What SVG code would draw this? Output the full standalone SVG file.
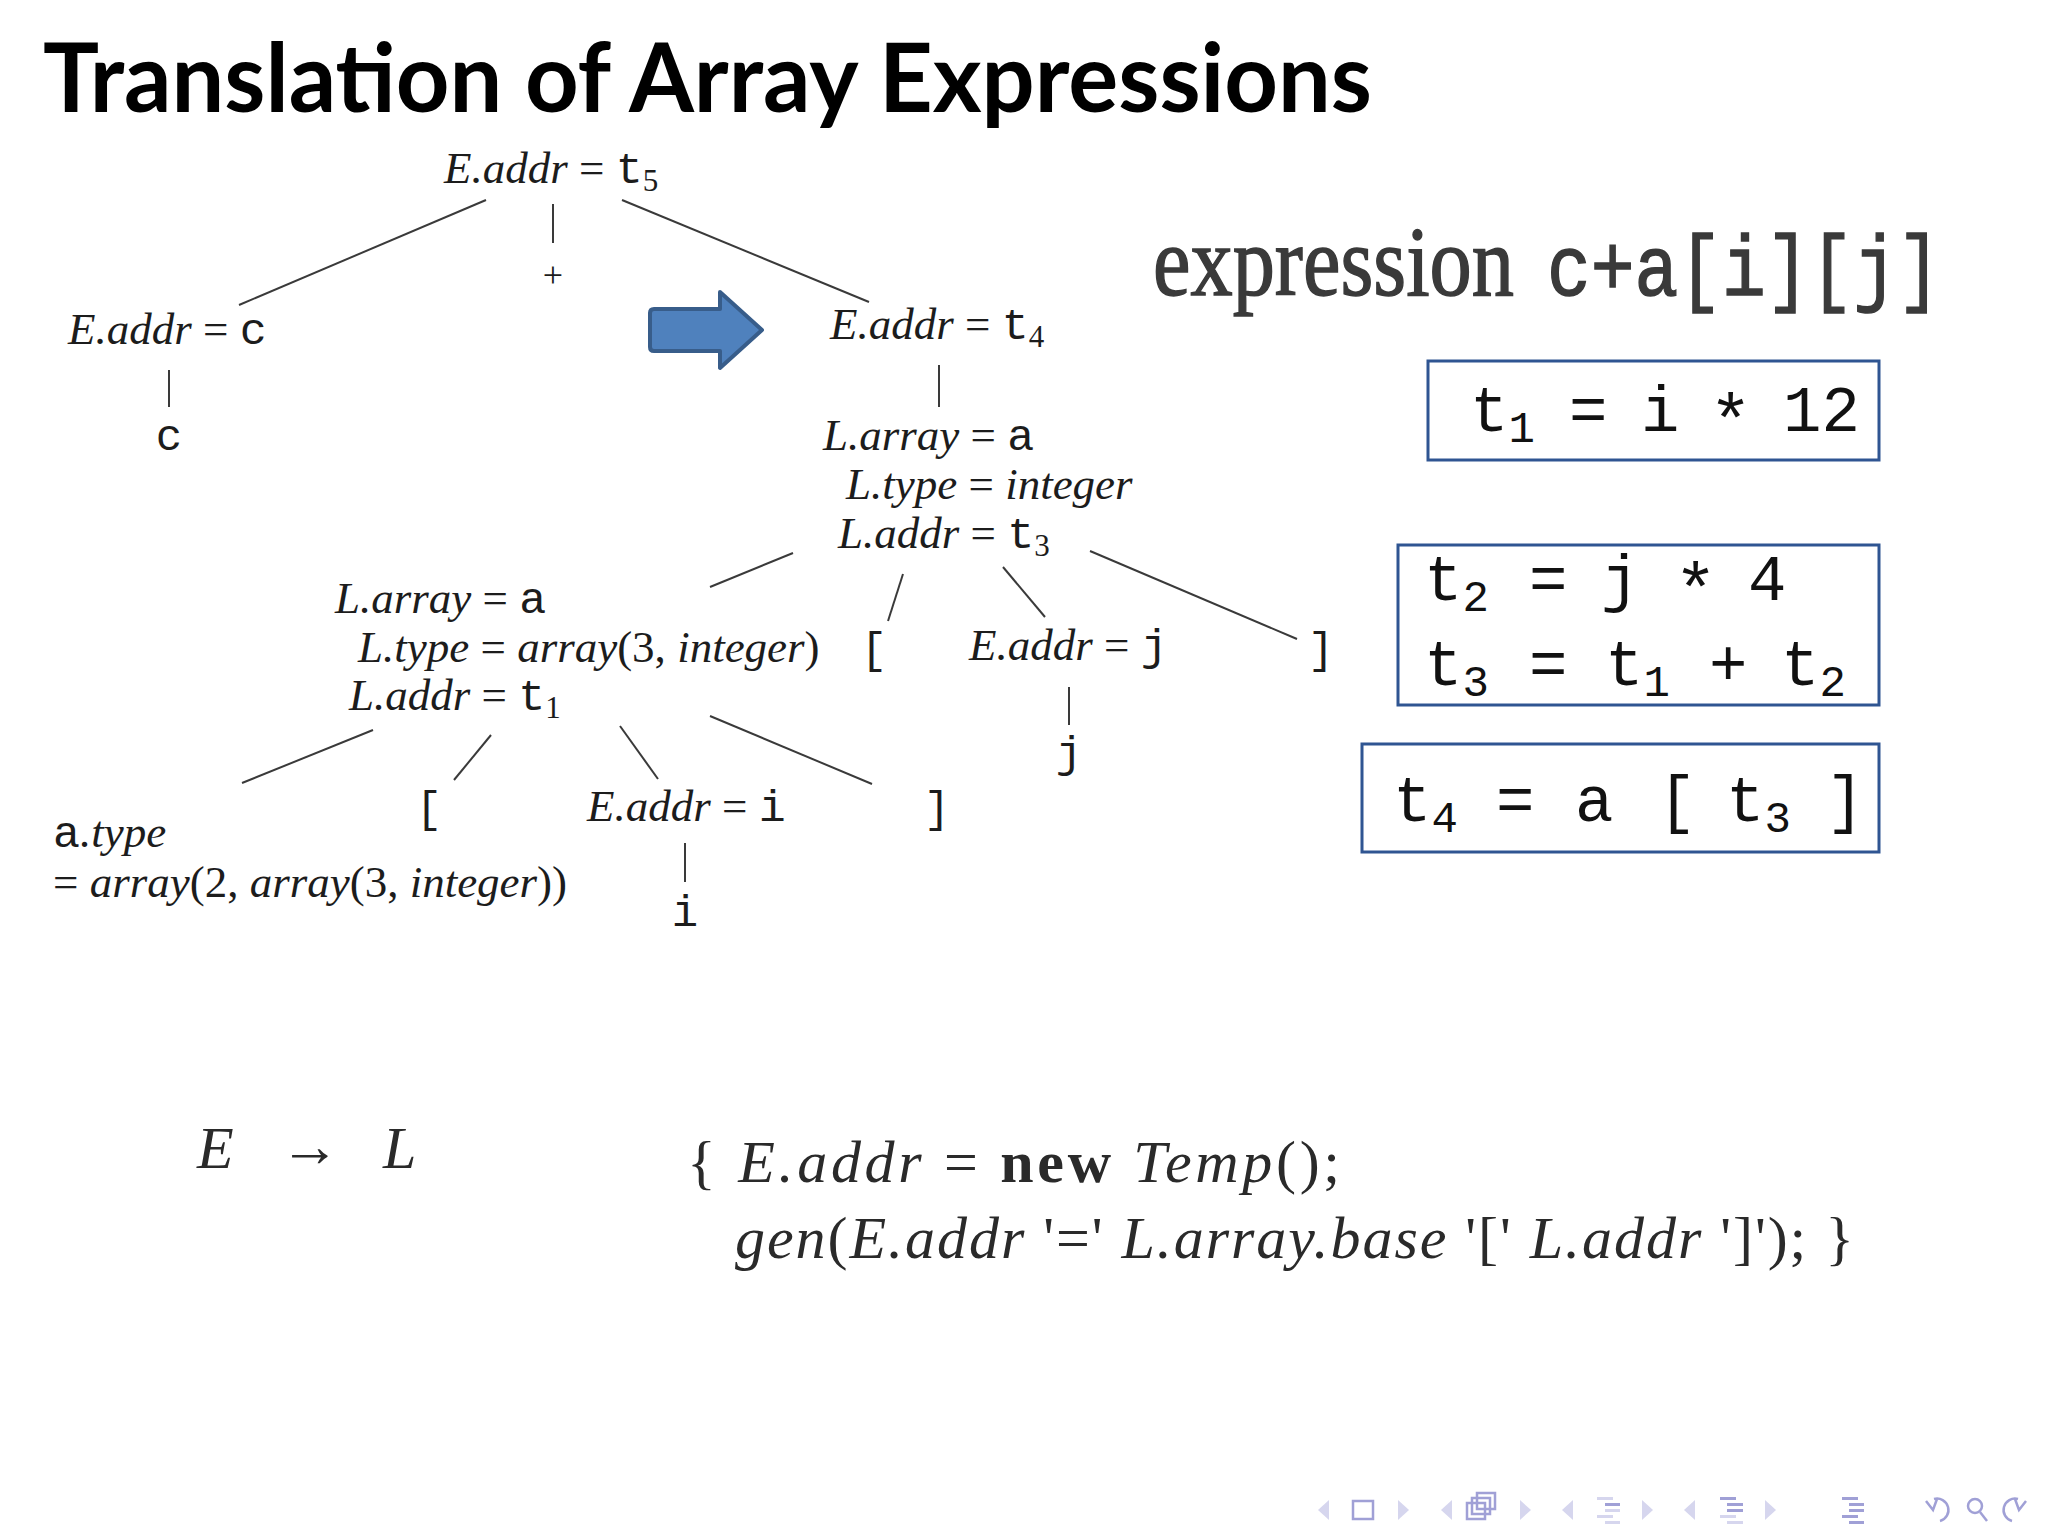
<svg xmlns="http://www.w3.org/2000/svg" width="2048" height="1540" viewBox="0 0 2048 1540">
<style>
.m{font-family:"Liberation Serif","DejaVu Serif",serif;font-style:italic;font-size:45px;fill:#1c1c1c}
.r{font-style:normal}
.b{font-style:normal;font-weight:bold}
.tt{font-family:"Liberation Mono",monospace;font-style:normal}
.s{font-style:normal;font-size:31px}
.lf{font-family:"Liberation Mono",monospace;font-size:44px;fill:#1c1c1c;text-anchor:middle}
.bx{font-family:"Liberation Mono",monospace;font-size:64px;fill:#111}
.bs{font-size:44px}
.ast{font-size:72px}
.box{fill:none;stroke:#2f5592;stroke-width:3}
.con line{stroke:#3a3a3a;stroke-width:2}
.f{font-family:"Liberation Serif","DejaVu Serif",serif;font-style:italic;font-size:60px;fill:#2a2a2a}
.nt{fill:#d6d6ee}
.ni{fill:none;stroke:#a0a0d6;stroke-width:2.5}
.nb{fill:#a0a0d6}
.nl{fill:#d6d6ee}
</style>
<rect width="2048" height="1540" fill="#ffffff"/>
<text id="title" x="43" y="112" font-family="Lato,'Liberation Sans',sans-serif" font-weight="bold" font-size="95" fill="#000" textLength="1329" lengthAdjust="spacingAndGlyphs">Translation of Array Expressions</text>

<g class="con" id="connectors">
<line x1="486" y1="200" x2="239" y2="305"/>
<line x1="553" y1="204" x2="553" y2="243"/>
<line x1="622" y1="200" x2="869" y2="302"/>
<line x1="169" y1="370" x2="169" y2="407"/>
<line x1="939" y1="365" x2="939" y2="407"/>
<line x1="793" y1="553" x2="710" y2="587"/>
<line x1="903" y1="574" x2="888" y2="621"/>
<line x1="1003" y1="567" x2="1045" y2="617"/>
<line x1="1090" y1="551" x2="1297" y2="639"/>
<line x1="1069" y1="687" x2="1069" y2="725"/>
<line x1="373" y1="730" x2="242" y2="783"/>
<line x1="491" y1="735" x2="454" y2="780"/>
<line x1="620" y1="726" x2="658" y2="779"/>
<line x1="710" y1="716" x2="872" y2="784"/>
<line x1="685" y1="843" x2="685" y2="882"/>
</g>

<g id="n-root"><text class="m" x="444" y="183">E.addr<tspan class="r"> = </tspan><tspan class="tt">t</tspan><tspan class="s" dy="8">5</tspan></text></g>
<g id="n-plus"><text x="553" y="287" font-family="Liberation Serif,serif" font-size="36" fill="#1c1c1c" text-anchor="middle">+</text></g>
<g id="n-ec"><text class="m" x="68" y="344">E.addr<tspan class="r"> = </tspan><tspan class="tt">c</tspan></text></g>
<g id="n-c"><text class="lf" x="169" y="450">c</text></g>

<g id="arrow"><path d="M654 309 H720 V292 L762 330 L720 368 V351 H654 Q650 351 650 347 V313 Q650 309 654 309 Z" fill="#4f81bd" stroke="#385d8a" stroke-width="4" stroke-linejoin="round"/></g>

<g id="n-et4"><text class="m" x="830" y="339">E.addr<tspan class="r"> = </tspan><tspan class="tt">t</tspan><tspan class="s" dy="8">4</tspan></text></g>
<g id="n-l1">
<text class="m" x="823" y="450">L.array<tspan class="r"> = </tspan><tspan class="tt">a</tspan></text>
<text class="m" x="846" y="499">L.type<tspan class="r"> = </tspan>integer</text>
<text class="m" x="838" y="548">L.addr<tspan class="r"> = </tspan><tspan class="tt">t</tspan><tspan class="s" dy="8">3</tspan></text>
</g>
<g id="n-l2">
<text class="m" x="335" y="613">L.array<tspan class="r"> = </tspan><tspan class="tt">a</tspan></text>
<text class="m" x="358" y="662">L.type<tspan class="r"> = </tspan>array<tspan class="r">(3, </tspan>integer<tspan class="r">)</tspan></text>
<text class="m" x="349" y="710">L.addr<tspan class="r"> = </tspan><tspan class="tt">t</tspan><tspan class="s" dy="8">1</tspan></text>
</g>
<g id="n-lb1"><text class="lf" x="874" y="663">[</text></g>
<g id="n-ej"><text class="m" x="969" y="660">E.addr<tspan class="r"> = </tspan><tspan class="tt">j</tspan></text></g>
<g id="n-rb1"><text class="lf" x="1321" y="663">]</text></g>
<g id="n-j"><text class="lf" x="1069" y="767">j</text></g>
<g id="n-atype">
<text class="m" x="53" y="847"><tspan class="tt">a</tspan>.type</text>
<text class="m" x="53" y="897"><tspan class="r">= </tspan>array<tspan class="r">(2, </tspan>array<tspan class="r">(3, </tspan>integer<tspan class="r">))</tspan></text>
</g>
<g id="n-lb2"><text class="lf" x="429" y="822">[</text></g>
<g id="n-ei"><text class="m" x="587" y="821">E.addr<tspan class="r"> = </tspan><tspan class="tt">i</tspan></text></g>
<g id="n-rb2"><text class="lf" x="937" y="822">]</text></g>
<g id="n-i"><text class="lf" x="685" y="926">i</text></g>

<g id="expr">
<text x="1153" y="295" font-family="Liberation Serif,serif" font-size="100" fill="#3a3a3a" stroke="#3a3a3a" stroke-width="1.5" textLength="361" lengthAdjust="spacingAndGlyphs">expression</text>
<text x="1547" y="295" font-family="Liberation Mono,monospace" font-size="86" fill="#3a3a3a" stroke="#3a3a3a" stroke-width="1.5" textLength="394" lengthAdjust="spacingAndGlyphs">c+a[i][j]</text>
</g>

<g id="box1">
<rect class="box" x="1428" y="361" width="451" height="99"/>
<text class="bx" y="431"><tspan x="1470">t</tspan><tspan class="bs" dy="11">1</tspan><tspan x="1569" dy="-11">=</tspan><tspan x="1641">i</tspan><tspan class="ast" x="1709" dy="14">*</tspan><tspan x="1783" dy="-14">12</tspan></text>
</g>
<g id="box2">
<rect class="box" x="1398" y="545" width="481" height="160"/>
<text class="bx" y="600"><tspan x="1424">t</tspan><tspan class="bs" dy="11">2</tspan><tspan x="1529" dy="-11">=</tspan><tspan x="1601">j</tspan><tspan class="ast" x="1674" dy="14">*</tspan><tspan x="1748" dy="-14">4</tspan></text>
<text class="bx" y="685"><tspan x="1424">t</tspan><tspan class="bs" dy="11">3</tspan><tspan x="1529" dy="-11">=</tspan><tspan x="1605">t</tspan><tspan class="bs" dy="11">1</tspan><tspan x="1709" dy="-11">+</tspan><tspan x="1781">t</tspan><tspan class="bs" dy="11">2</tspan></text>
</g>
<g id="box3">
<rect class="box" x="1362" y="744" width="517" height="108"/>
<text class="bx" y="821"><tspan x="1393">t</tspan><tspan class="bs" dy="11">4</tspan><tspan x="1496" dy="-11">=</tspan><tspan x="1575">a</tspan><tspan x="1658">[</tspan><tspan x="1726">t</tspan><tspan class="bs" dy="11">3</tspan><tspan x="1826" dy="-11">]</tspan></text>
</g>

<g id="rule">
<text class="f" x="197" y="1168">E</text>
<text class="f r" x="280" y="1166">→</text>
<text class="f" x="383" y="1168">L</text>
<text class="f" x="687" y="1182" textLength="653"><tspan class="r">{ </tspan>E.addr<tspan class="r"> = </tspan><tspan class="b">new</tspan> Temp<tspan class="r">();</tspan></text>
<text class="f" x="735" y="1258" textLength="1119">gen<tspan class="r">(</tspan>E.addr<tspan class="r"> '=' </tspan>L.array.base<tspan class="r"> '[' </tspan>L.addr<tspan class="r"> ']'); }</tspan></text>
</g>

<g id="nav">
<polygon class="nt" points="1329,1500 1318,1510 1329,1520"/>
<rect class="ni" x="1353" y="1501" width="20" height="18"/>
<polygon class="nt" points="1398,1500 1409,1510 1398,1520"/>
<polygon class="nt" points="1452,1500 1441,1510 1452,1520"/>
<rect class="ni" x="1477" y="1493" width="18" height="16"/>
<rect class="ni" x="1472" y="1498" width="18" height="16" fill="#fff"/>
<rect class="ni" x="1467" y="1503" width="18" height="16" fill="#fff"/>
<polygon class="nt" points="1520,1500 1531,1510 1520,1520"/>
<polygon class="nt" points="1573,1500 1562,1510 1573,1520"/>
<rect class="nl" x="1597" y="1497" width="16" height="3"/>
<rect class="nb" x="1605" y="1503" width="15" height="3"/>
<rect class="nl" x="1605" y="1509" width="15" height="3"/>
<rect class="nl" x="1597" y="1515" width="16" height="3"/>
<rect class="nl" x="1605" y="1521" width="15" height="3"/>
<polygon class="nt" points="1642,1500 1653,1510 1642,1520"/>
<polygon class="nt" points="1695,1500 1684,1510 1695,1520"/>
<rect class="nb" x="1720" y="1497" width="16" height="3"/>
<rect class="nb" x="1727" y="1503" width="16" height="3"/>
<rect class="nb" x="1727" y="1509" width="16" height="3"/>
<rect class="nl" x="1720" y="1515" width="16" height="3"/>
<rect class="nl" x="1727" y="1521" width="16" height="3"/>
<polygon class="nt" points="1765,1500 1776,1510 1765,1520"/>
<rect class="nb" x="1842" y="1497" width="16" height="3"/>
<rect class="nb" x="1849" y="1503" width="15" height="3"/>
<rect class="nb" x="1849" y="1509" width="15" height="3"/>
<rect class="nb" x="1842" y="1515" width="16" height="3"/>
<rect class="nb" x="1849" y="1521" width="15" height="3"/>
<path class="ni" d="M1934 1499 A11 11 0 1 1 1940 1521"/>
<path class="ni" d="M1926 1501 L1933 1510 L1937 1499"/>
<circle class="ni" cx="1975" cy="1506" r="7"/>
<line class="ni" x1="1980" y1="1512" x2="1987" y2="1521"/>
<path class="ni" d="M2018 1499 A11 11 0 1 0 2012 1521"/>
<path class="ni" d="M2026 1501 L2019 1510 L2015 1499"/>
</g>
</svg>
